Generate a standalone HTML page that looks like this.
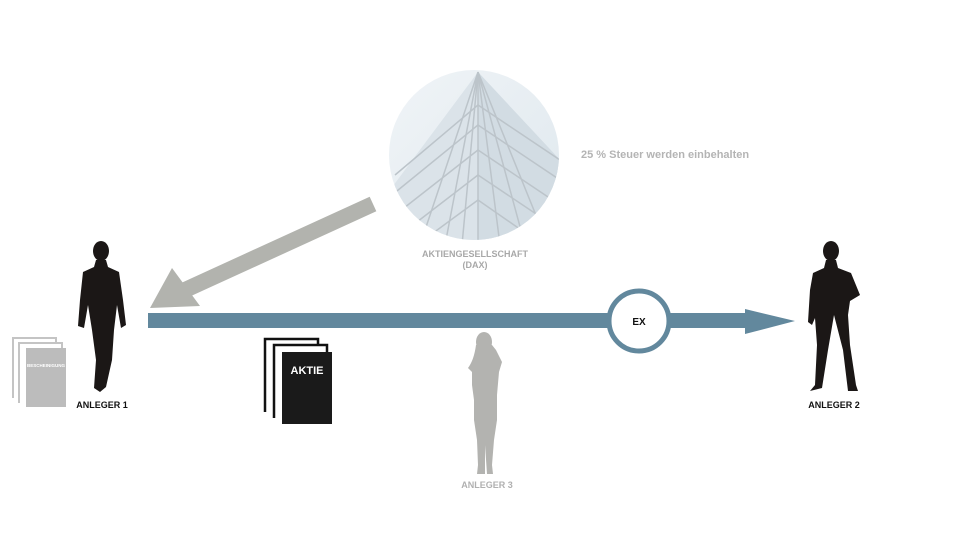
<!DOCTYPE html>
<html><head><meta charset="utf-8"><style>
html,body{margin:0;padding:0;background:#fff}
svg{display:block}
text{font-family:"Liberation Sans",sans-serif;font-weight:bold}
</style></head><body>
<svg width="960" height="540" viewBox="0 0 960 540" xmlns="http://www.w3.org/2000/svg">
<defs>
<linearGradient id="sky" x1="0" y1="0" x2="1" y2="1">
<stop offset="0" stop-color="#f0f4f7"/><stop offset="1" stop-color="#dfe8ee"/>
</linearGradient>
<clipPath id="cc"><circle cx="474" cy="155" r="85"/></clipPath>
</defs>
<circle cx="474" cy="155" r="85" fill="url(#sky)"/>
<g clip-path="url(#cc)">
<polygon points="478,72 390,190 395,245 560,245 560,160" fill="#dbe3e9"/>
<polygon points="478,72 478,245 560,245 560,160" fill="#d2dce3"/>
<g stroke="#bcc4ca" stroke-width="1.5" fill="none">
<line x1="478" y1="72" x2="478" y2="245"/>
<path d="M478,175 L400,235 M478,200 L410,250 M478,150 L395,215 M478,125 L392,195 M478,105 L395,175"/>
<path d="M478,175 L560,230 M478,200 L550,250 M478,150 L560,205 M478,125 L560,180 M478,105 L560,160"/>
<path d="M478,72 L445,245 M478,72 L420,245 M478,72 L462,245 M478,72 L500,245 M478,72 L525,245 M478,72 L548,245"/>
</g>
</g>
<text x="475" y="257" font-size="9" fill="#a8a8a8" text-anchor="middle">AKTIENGESELLSCHAFT</text>
<text x="475" y="268" font-size="9" fill="#a8a8a8" text-anchor="middle">(DAX)</text>
<text x="581" y="158" font-size="11" fill="#b4b4b4">25 % Steuer werden einbehalten</text>
<line x1="373" y1="204" x2="185" y2="290" stroke="#b2b3ae" stroke-width="16"/>
<polygon points="150,308 172,268 200,306" fill="#b2b3ae"/>
<rect x="148" y="313" width="600" height="15" fill="#62889d"/>
<polygon points="745,309 795,321 745,334" fill="#62889d"/>
<circle cx="639" cy="321" r="30" fill="#fff" stroke="#62889d" stroke-width="5"/>
<text x="639" y="325" font-size="10" fill="#111" text-anchor="middle">EX</text>
<path d="M13,398 V338 H56 V342" fill="none" stroke="#c4c4c4" stroke-width="2"/>
<path d="M19,403 V343 H62 V348" fill="none" stroke="#c4c4c4" stroke-width="2"/>
<rect x="26" y="348" width="40" height="59" fill="#bcbcbc"/>
<text x="46" y="367" font-size="4.5" fill="#fff" text-anchor="middle">BESCHEINIGUNG</text>
<path d="M265,412 V339 H318 V344" fill="none" stroke="#111" stroke-width="2.5"/>
<path d="M274,418 V345 H327 V352" fill="none" stroke="#111" stroke-width="2.5"/>
<rect x="282" y="352" width="50" height="72" fill="#1a1a1a"/>
<text x="307" y="374" font-size="11" fill="#fff" text-anchor="middle">AKTIE</text>
<g fill="#1b1716">
<ellipse cx="101" cy="251" rx="8" ry="10"/>
<path d="M96,260 H106 L108,267 L119,272 L123,300 L126,325 L121,328 L117,305 L114,330 L112,360 L106,387 L100,392 L94,388 L96,360 L92,330 L88,305 L84,328 L78,326 L80,300 L83,272 L94,267 Z"/>
</g>
<text x="102" y="408" font-size="9" fill="#111" text-anchor="middle">ANLEGER 1</text>
<g fill="#1b1716">
<ellipse cx="831" cy="251" rx="8" ry="10"/>
<path d="M826,260 H836 L838,268 L851,273 L860,295 L850,301 L848,315 L850,345 L856,385 L858,391 L848,391 L843,350 L834,315 L828,350 L822,388 L810,391 L815,385 L817,345 L815,318 L812,325 L808,322 L810,290 L813,273 L824,268 Z"/>
</g>
<text x="834" y="408" font-size="9" fill="#111" text-anchor="middle">ANLEGER 2</text>
<g fill="#b3b3b0">
<ellipse cx="484" cy="342" rx="8" ry="10"/>
<path d="M476,345 Q474,360 468,368 L472,372 L472,385 L474,400 L474,420 L477,440 L478,465 L477,474 L485,474 L485,445 L487,474 L493,474 L492,465 L494,440 L497,420 L497,395 L499,372 L502,362 L496,350 L492,345 Z"/>
</g>
<text x="487" y="488" font-size="9" fill="#b0b0b0" text-anchor="middle">ANLEGER 3</text>
</svg>
</body></html>
